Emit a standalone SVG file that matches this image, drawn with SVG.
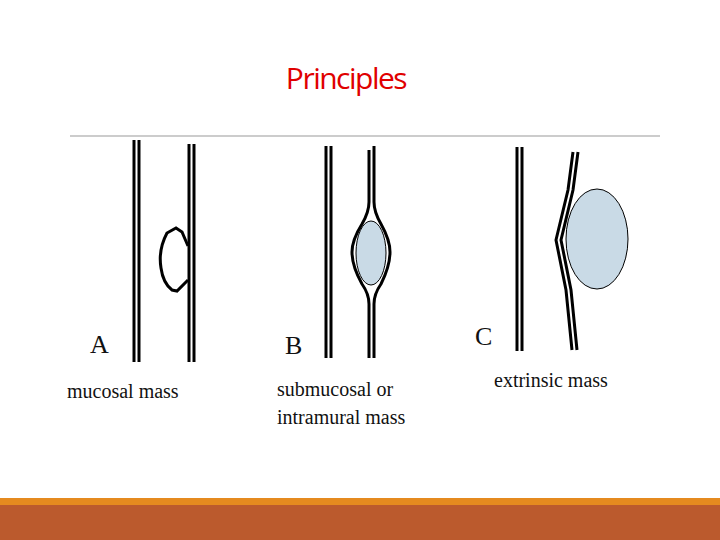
<svg xmlns="http://www.w3.org/2000/svg" width="720" height="540" viewBox="0 0 720 540">
<style>
.w{stroke:#000;stroke-width:3;fill:none}
.t{font-family:"Liberation Serif",serif;fill:#111}
.m{fill:#c9dae6;stroke:#000;stroke-width:1}
</style>
<rect width="720" height="540" fill="#fff"/>
<text x="346" y="89" text-anchor="middle" font-family="Open Sans,Lato,sans-serif" font-size="30" fill="#e00000" letter-spacing="-1.5">Principles</text>
<line x1="70" y1="136" x2="660" y2="136" stroke="#999" stroke-width="1"/>
<g id="A">
<line class="w" x1="134" y1="140" x2="134" y2="362"/><line class="w" x1="139" y1="140" x2="139" y2="362"/>
<line class="w" x1="189" y1="144" x2="189" y2="362"/><line class="w" x1="194" y1="144" x2="194" y2="362"/>
<path class="w" d="M188,246 L182,232 L176,228 L167,233 Q158,250 161,268 Q163,283 172,290 L177,291 L188,280" fill="#fff"/>
<text class="t" x="90" y="353" font-size="26">A</text>
<text class="t" x="67" y="398" font-size="20">mucosal mass</text>
</g>
<g id="B">
<line class="w" x1="326" y1="146" x2="326" y2="358"/><line class="w" x1="331" y1="146" x2="331" y2="358"/>
<path class="w" d="M369,150 L369,202 Q369,212 362,224 Q352,240 352,252 Q352,266 362,284 Q369,294 369,304 L369,358"/>
<path class="w" d="M374,146 L374,202 Q374,212 381,224 Q390,240 390,252 Q390,266 381,284 Q374,294 374,304 L374,358"/>
<ellipse class="m" cx="371" cy="253" rx="15" ry="32"/>
<text class="t" x="285" y="354" font-size="26">B</text>
<text class="t" x="277" y="396" font-size="20">submucosal or</text>
<text class="t" x="277" y="424" font-size="20">intramural mass</text>
</g>
<g id="C">
<line class="w" x1="517" y1="147" x2="517" y2="351"/><line class="w" x1="522" y1="147" x2="522" y2="351"/>
<path class="w" d="M573,152 L568,190 L556,240 L566,290 L572,350"/>
<path class="w" d="M578,152 L573,190 L561,240 L571,290 L577,350"/>
<ellipse class="m" cx="597" cy="239" rx="31" ry="50"/>
<text class="t" x="475" y="345" font-size="26">C</text>
<text class="t" x="494" y="387" font-size="20">extrinsic mass</text>
</g>
<rect x="0" y="498" width="720" height="7" fill="#e58a1f"/>
<rect x="0" y="505" width="720" height="35" fill="#bb5a2d"/>
</svg>
